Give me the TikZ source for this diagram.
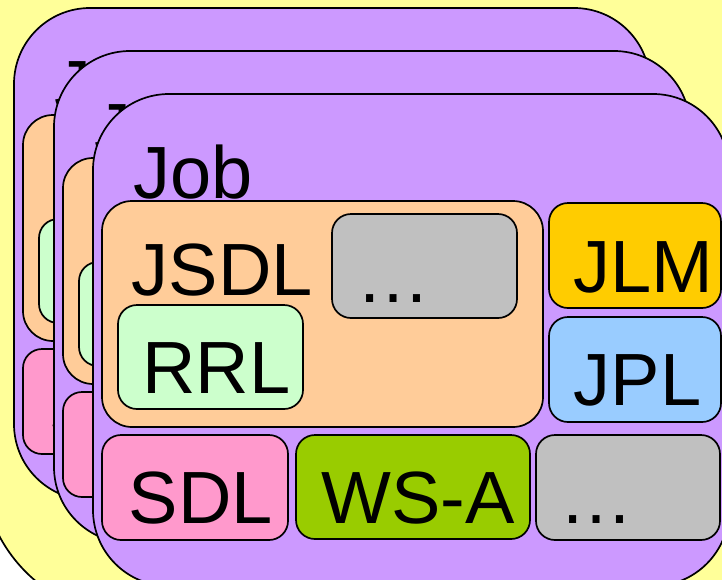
\documentclass[tikz,border=0pt]{standalone}
\usepackage{fontspec}
\setmainfont{Liberation Sans}

\definecolor{bgyellow}{HTML}{FFFF99}
\definecolor{jobpurple}{HTML}{CC99FF}
\definecolor{jsdlorange}{HTML}{FFCC99}
\definecolor{rrlgreen}{HTML}{CCFFCC}
\definecolor{moregray}{HTML}{C0C0C0}
\definecolor{jlmgold}{HTML}{FFCC00}
\definecolor{jplblue}{HTML}{99CCFF}
\definecolor{sdlpink}{HTML}{FF99CC}
\definecolor{wsagreen}{HTML}{99CC00}

\tikzset{
  outline/.style={draw=black, line width=1.7pt},
  card/.style={outline, fill=jobpurple, rounded corners=76pt},
  part/.style={outline, rounded corners=19pt},
  label/.style={inner sep=0pt, anchor=base west, font=\fontsize{74}{80}\selectfont},
}

% One job card: #1 = name prefix, (#2,#3) = top-left corner
\newcommand\jobcard[3]{%
  \begin{scope}[shift={(#2,#3)}]
    \draw[card] (0,0) rectangle (636,492);
    \node[label] (#1job) at (40.5,104) {Job};
    \draw[part, fill=jsdlorange, rounded corners=30pt] (9,107) rectangle (450,333);
    \node[label] (#1jsdl) at (38.5,201) {JSDL};
    \draw[part, fill=moregray] (239,120) rectangle (424,224);
    \node[label] (#1moreA) at (263.5,208) {…};
    \draw[part, fill=rrlgreen] (25,211) rectangle (210,315);
    \node[label] (#1rrl) at (49,299) {RRL};
    \draw[part, fill=jlmgold] (456,109) rectangle (628,214);
    \node[label] (#1jlm) at (480.5,198) {JLM};
    \draw[part, fill=jplblue] (456,223) rectangle (628,328);
    \node[label] (#1jpl) at (480.5,311) {JPL};
    \draw[part, fill=sdlpink] (9,341) rectangle (195,446);
    \node[label] (#1sdl) at (35.5,429) {SDL};
    \draw[part, fill=wsagreen] (203,341) rectangle (437,445);
    \node[label] (#1wsa) at (228,429) {WS-A};
    \draw[part, fill=moregray] (443,341) rectangle (627,446);
    \node[label] (#1moreB) at (466.5,429) {…};
  \end{scope}}

\begin{document}
\begin{tikzpicture}[x=1pt, y=-1pt]
  \useasboundingbox (0,0) rectangle (722,579);
  \clip (0,0) rectangle (722,579);
  \fill[white] (0,0) rectangle (722,579);
  % large yellow backdrop
  \draw[outline, fill=bgyellow, rounded corners=150pt] (-18,-300) rectangle (1000,616);
  % stacked job cards, back to front
  \jobcard{a}{14}{8}
  \jobcard{b}{54}{51}
  \jobcard{c}{93}{94}
\end{tikzpicture}
\end{document}
